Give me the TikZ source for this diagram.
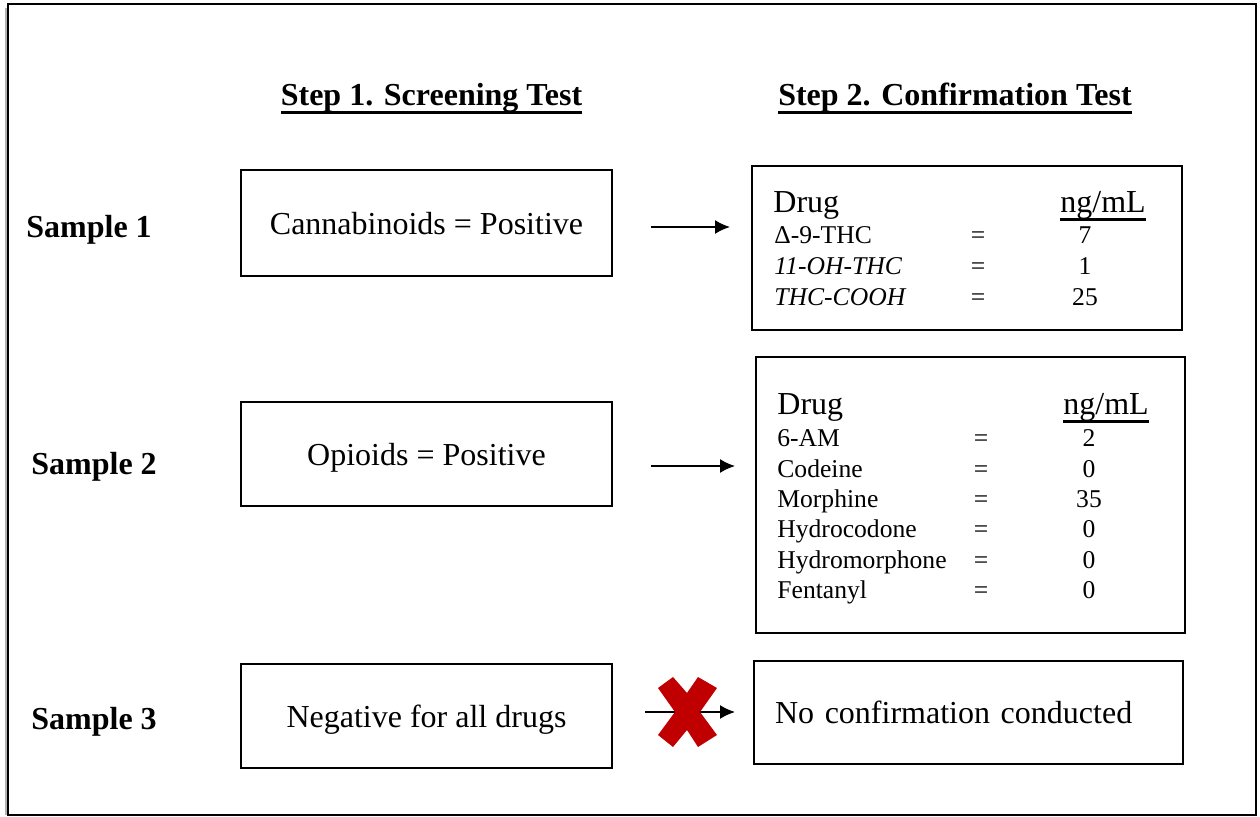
\documentclass[tikz,border=0pt]{standalone}
\usepackage{fontspec}
\setmainfont{Liberation Serif}
\usetikzlibrary{arrows.meta}
\definecolor{crossred}{HTML}{C00000}
\newcommand{\ulined}[1]{\setbox0=\hbox{#1}\rlap{\rule[-4pt]{\wd0}{1.4pt}}\box0}

\begin{document}
\begin{tikzpicture}[x=0.5pt, y=-0.5pt,
    box/.style={draw, line width=1pt, inner sep=0pt, text depth=0pt, font=\fontsize{16}{19}\selectfont},
    heading/.style={inner sep=0pt, anchor=base, font=\fontsize{16}{19}\selectfont\bfseries},
    sample/.style={inner sep=0pt, anchor=base west, font=\fontsize{16}{19}\selectfont\bfseries},
    colhead/.style={inner sep=0pt, anchor=base west, font=\fontsize{16}{19}\selectfont},
    cell/.style={inner sep=0pt, font=\fontsize{12.8}{15}\selectfont},
    arrow/.style={-{Latex[length=7.5pt, width=7pt]}, line width=0.8pt}
]
\useasboundingbox (0,0) rectangle (1260,817);
\draw[gray!60, line width=1pt] (6,8) -- (6,815);
\draw[line width=1pt] (8,4) rectangle (1256,815);

% column headings
\node[heading] (step1) at (431.5,106) {\ulined{Step 1. Screening Test}};
\node[heading] (step2) at (955,106) {\ulined{Step 2. Confirmation Test}};

% sample labels
\node[sample] (s1) at (26,238) {Sample 1};
\node[sample] (s2) at (31,475) {Sample 2};
\node[sample] (s3) at (31,730) {Sample 3};

% screening results
\node[box, minimum width=185.5pt, minimum height=53pt] (scr1) at (426.5,223) {Cannabinoids = Positive};
\node[box, minimum width=185.5pt, minimum height=52pt] (scr2) at (426.5,454) {Opioids = Positive};
\node[box, minimum width=185.5pt, minimum height=52pt] (scr3) at (426.5,716) {Negative for all drugs};

% confirmation results
\node[box, minimum width=215pt, minimum height=82pt] (conf1) at (967,248) {};
\node[box, minimum width=214.5pt, minimum height=138pt] (conf2) at (970.5,495) {};
\node[box, minimum height=51.5pt, text width=193.5pt, inner xsep=10.5pt, align=left] (conf3) at (968.5,712.5) {No confirmation conducted};

\node[colhead] (drug1) at (773,213) {Drug};
\node[colhead] (unit1) at (1060,213) {\ulined{ng/mL}};
\foreach \drug/\val [count=\i from 0] in {Δ-9-THC/7, \textit{11-OH-THC}/1, \textit{THC-COOH}/25} {
  \node[cell, anchor=base west] (thc\i) at (774, 244+31*\i) {\drug};
  \node[cell, anchor=base] (thceq\i) at (978, 244+31*\i) {=};
  \node[cell, anchor=base] (thcval\i) at (1085, 244+31*\i) {\val};
}

\node[colhead] (drug2) at (777,415) {Drug};
\node[colhead] (unit2) at (1063,415) {\ulined{ng/mL}};
\foreach \drug/\val [count=\i from 0] in {6-AM/2, Codeine/0, Morphine/35, Hydrocodone/0, Hydromorphone/0, Fentanyl/0} {
  \node[cell, anchor=base west] (opi\i) at (777, 447+30.3*\i) {\drug};
  \node[cell, anchor=base] (opieq\i) at (981, 447+30.3*\i) {=};
  \node[cell, anchor=base] (opival\i) at (1089, 447+30.3*\i) {\val};
}

% arrows
\coordinate (a1s) at (651,227);
\coordinate (a1e) at (730,227);
\coordinate (a2s) at (651,466);
\coordinate (a2e) at (735,466);
\coordinate (a3s) at (645,712);
\coordinate (a3e) at (735,712);
\draw[arrow] (a1s) -- (a1e);
\draw[arrow] (a2s) -- (a2e);
\draw[arrow] (a3s) -- (a3e);

% red cross over the last arrow
\fill[crossred] (673,677) -- (687,693) -- (698,677) -- (717,688) -- (700,712) -- (717,735)
  -- (698,747) -- (687,730) -- (673,747) -- (658,735) -- (675,712) -- (658,688) -- cycle;
\end{tikzpicture}
\end{document}
